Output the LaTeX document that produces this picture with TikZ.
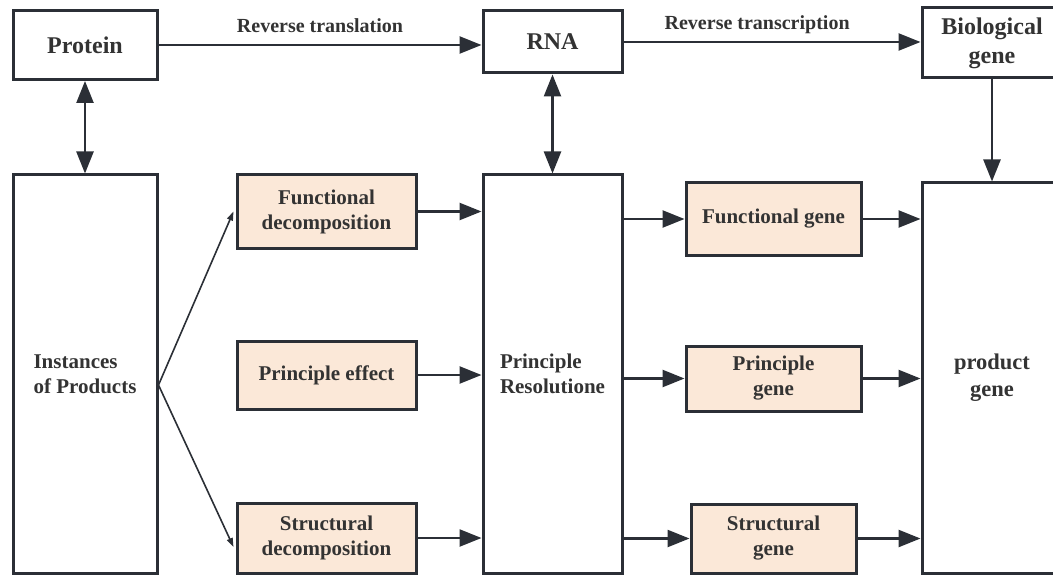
\documentclass[tikz,border=0pt]{standalone}
\usepackage{fontspec}
\setmainfont{Liberation Serif}
\usetikzlibrary{arrows.meta}
\definecolor{boxline}{RGB}{43,47,54}
\definecolor{peach}{RGB}{251,232,216}
\definecolor{txt}{RGB}{51,51,51}
\begin{document}
\begin{tikzpicture}[x=1pt,y=-1pt,
  blk/.style={draw=boxline,line width=3pt,fill=white,text=txt,inner sep=2pt,
    font=\fontsize{21}{25}\selectfont\bfseries,align=center},
  top/.style={blk,font=\fontsize{24}{29}\selectfont\bfseries},
  sub/.style={blk,fill=peach},
  big/.style={line width=2.5pt,draw=boxline,-{Triangle[length=22pt,width=17pt]}},
  both/.style={big,{Triangle[length=22pt,width=17pt]}-{Triangle[length=22pt,width=17pt]}},
  thin/.style={line width=1.6pt,draw=boxline,-{Triangle[length=9pt,width=6pt]}},
  lbl/.style={text=txt,font=\fontsize{20}{24}\selectfont\bfseries,inner sep=3pt}]
 \useasboundingbox (0,0) rectangle (1053,575);
 \clip (0,0) rectangle (1053,575);
 % top row
 \node[top,minimum width=144pt,minimum height=69pt] (protein) at (85,45) {Protein};
 \node[top,minimum width=139pt,minimum height=62pt] (rna) at (552.5,42) {RNA};
 \node[top,minimum width=140pt,minimum height=70pt] (bio) at (992,43) {Biological\\gene};
 % tall boxes
 \node[blk,minimum width=144pt,minimum height=398pt,align=left] (inst) at (85,374) {Instances\\of Products};
 \node[blk,minimum width=139pt,minimum height=398pt,align=left] (pres) at (552.5,374) {Principle\\Resolutione};
 \node[blk,font=\fontsize{22.5}{27}\selectfont\bfseries,minimum width=140pt,minimum height=390pt] (prod) at (992,378) {product\\gene};
 % decompositions
 \node[sub,minimum width=179pt,minimum height=73pt] (fdec) at (326.5,211.5) {Functional\\decomposition};
 \node[sub,minimum width=179pt,minimum height=68pt] (peff) at (326.5,375) {Principle effect};
 \node[sub,minimum width=179pt,minimum height=70pt] (sdec) at (326.5,538) {Structural\\decomposition};
 % genes
 \node[sub,minimum width=175pt,minimum height=72pt] (fgene) at (773.5,219) {Functional gene};
 \node[sub,minimum width=175pt,minimum height=65pt] (pgene) at (773.5,378.5) {Principle\\gene};
 \node[sub,minimum width=165pt,minimum height=69pt] (sgene) at (773.5,538.5) {Structural\\gene};
 % reverse steps
 \draw[big] (protein.east) -- (protein.east -| rna.west)
   node[lbl,midway,above=8pt] {Reverse translation};
 \draw[big] (rna.east) -- (rna.east -| bio.west)
   node[lbl,pos=0.45,above=4pt] {Reverse transcription};
 \draw[both] (protein.south) -- (inst.north);
 \draw[both] (rna.south) -- (pres.north);
 \draw[big] (bio.south) -- (prod.north);
 % split of the instances
 \draw[thin] ([yshift=-11pt]inst.east) -- ([xshift=-2pt]fdec.west);
 \draw[thin] ([yshift=-11pt]inst.east) -- ([xshift=-2pt,yshift=-9pt]sdec.west);
 % into the resolution
 \draw[big] (fdec.east) -- (fdec.east -| pres.west);
 \draw[big] (peff.east) -- (peff.east -| pres.west);
 \draw[big] (sdec.east) -- (sdec.east -| pres.west);
 % out to the genes
 \draw[big] (fgene.west -| pres.east) -- (fgene.west);
 \draw[big] (pgene.west -| pres.east) -- (pgene.west);
 \draw[big] (sgene.west -| pres.east) -- (sgene.west);
 \draw[big] (fgene.east) -- (fgene.east -| prod.west);
 \draw[big] (pgene.east) -- (pgene.east -| prod.west);
 \draw[big] (sgene.east) -- (sgene.east -| prod.west);
\end{tikzpicture}
\end{document}
